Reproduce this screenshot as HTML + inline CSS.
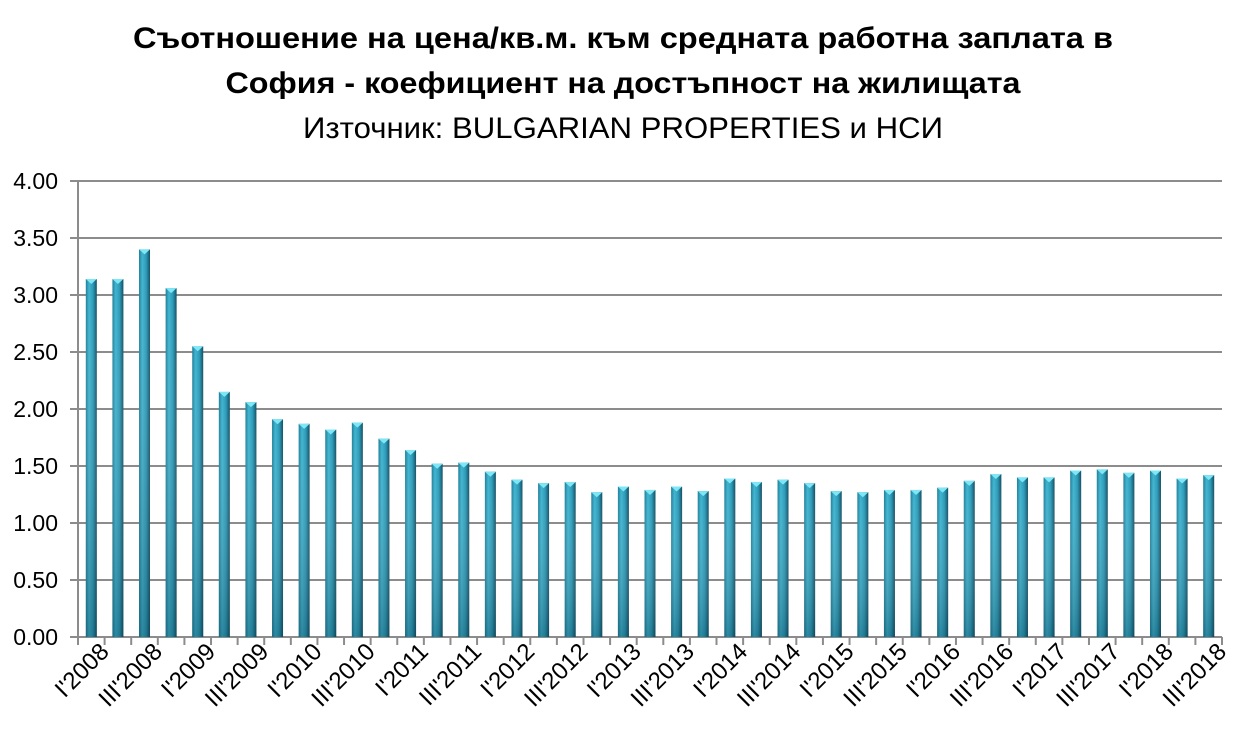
<!DOCTYPE html>
<html><head><meta charset="utf-8"><style>
body{margin:0;background:#fff;}
svg{display:block;font-family:"Liberation Sans",sans-serif;}
</style></head><body>
<svg width="1246" height="742" xmlns="http://www.w3.org/2000/svg">
<defs>
<linearGradient id="g" x1="0" x2="1" y1="0" y2="0">
<stop offset="0" stop-color="#1f7e98"/><stop offset="0.3" stop-color="#3fb4d0"/><stop offset="0.65" stop-color="#2a9ab8"/><stop offset="1" stop-color="#124e62"/>
</linearGradient>
<linearGradient id="v" x1="0" x2="0" y1="0" y2="1">
<stop offset="0" stop-color="#fff" stop-opacity="0"/><stop offset="1" stop-color="#0a3a4a" stop-opacity="0.35"/>
</linearGradient>
</defs>
<text x="623" y="48" font-size="30" font-weight="bold" text-anchor="middle" textLength="980" lengthAdjust="spacingAndGlyphs">Съотношение на цена/кв.м. към средната работна заплата в</text>
<text x="623" y="93" font-size="30" font-weight="bold" text-anchor="middle" textLength="795" lengthAdjust="spacingAndGlyphs">София - коефициент на достъпност на жилищата</text>
<text x="623" y="138" font-size="30" text-anchor="middle" textLength="640" lengthAdjust="spacingAndGlyphs">Източник: BULGARIAN PROPERTIES и НСИ</text>
<g id="grid" stroke="#8c8c8c" stroke-width="2"></g>
<g id="bars"></g>
<g id="lab" font-size="23"></g>
</svg>
<script>
const vals=[3.14,3.14,3.40,3.06,2.55,2.15,2.06,1.91,1.87,1.82,1.88,1.74,1.64,1.52,1.53,1.45,1.38,1.35,1.36,1.27,1.32,1.29,1.32,1.28,1.39,1.36,1.38,1.35,1.28,1.27,1.29,1.29,1.31,1.37,1.43,1.40,1.40,1.46,1.47,1.44,1.46,1.39,1.42];
const NS="http://www.w3.org/2000/svg";
function el(t,a,p,txt){const e=document.createElementNS(NS,t);for(const k in a)e.setAttribute(k,a[k]);if(txt)e.textContent=txt;document.getElementById(p).appendChild(e);return e;}
const x0=78,x1=1222,y0=637,s=114,n=vals.length,w=(x1-x0)/n;
for(let i=0;i<=8;i++){const y=y0-i*0.5*s;el('line',{x1:x0-8,x2:x1,y1:y,y2:y},'grid');
el('text',{x:58,y:y+8,'text-anchor':'end','font-size':'23'},'lab',(i*0.5).toFixed(2));}
el('line',{x1:x0,x2:x0,y1:y0-4*s,y2:y0+8},'grid');
for(let i=0;i<=n;i++){const x=x0+i*w;el('line',{x1:x,x2:x,y1:y0,y2:y0+8},'grid');}
vals.forEach((v,i)=>{const cx=x0+(i+0.5)*w,h=v*s,bw=11;
el('rect',{x:cx-bw/2,y:y0-h,width:bw,height:h,fill:'url(#g)'},'bars');
el('rect',{x:cx-bw/2,y:y0-h,width:bw,height:h,fill:'url(#v)'},'bars');
el('polygon',{points:`${cx-bw/2},${y0-h} ${cx+bw/2},${y0-h} ${cx},${y0-h+5}`,fill:'#7fe6f5'},'bars');
if(i%2==0){const yr=2008+Math.floor(i/4);const q=(i%4==0)?"I":"III";
el('text',{x:0,y:0,'text-anchor':'end','font-size':'24',transform:`translate(${cx+19},${y0+16}) rotate(-45)`},'lab',q+"'"+yr);}
});
</script>
</body></html>
